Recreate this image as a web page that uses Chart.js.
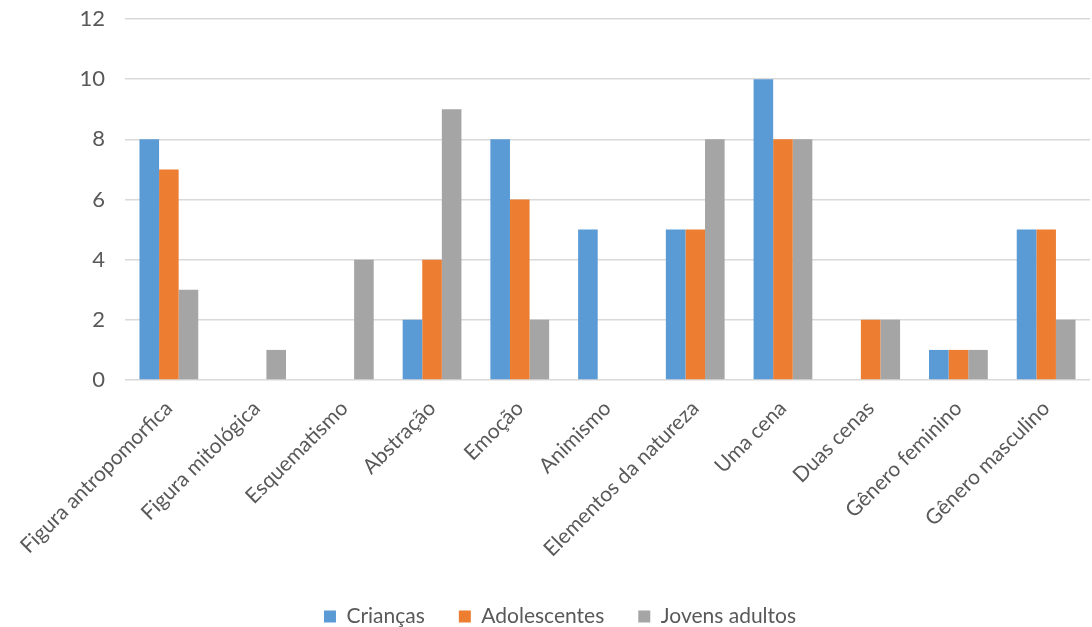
<!DOCTYPE html>
<html>
<head>
<meta charset="utf-8">
<script src="https://cdn.jsdelivr.net/npm/chart.js@4"></script>
<style>
  html, body { margin: 0; padding: 0; background: #fff; }
  #wrap { width: 1092px; height: 627px; }
</style>
</head>
<body>
<div id="wrap"><canvas id="myChart"></canvas></div>
<script>
const categories = ['Figura antropomorfica', 'Figura mitológica', 'Esquematismo', 'Abstração', 'Emoção',
  'Animismo', 'Elementos da natureza', 'Uma cena', 'Duas cenas', 'Gênero feminino', 'Gênero masculino'];
const criancas = [8, 0, 0, 2, 8, 5, 5, 10, 0, 1, 5];
const adolescentes = [7, 0, 0, 4, 6, 0, 5, 8, 2, 1, 5];
const jovensAdultos = [3, 1, 4, 9, 2, 0, 8, 8, 2, 1, 2];
const yTicks = [0, 2, 4, 6, 8, 10, 12];

const ctx = document.getElementById('myChart');
const fontFamily = 'Lato, "Open Sans", sans-serif';
const textColor = '#595959';

new Chart(ctx, {
  type: 'bar',
  data: {
    labels: categories,
    datasets: [
      { label: 'Crianças', data: criancas, backgroundColor: '#5B9BD5' },
      { label: 'Adolescentes', data: adolescentes, backgroundColor: '#ED7D31' },
      { label: 'Jovens adultos', data: jovensAdultos, backgroundColor: '#A5A5A5' }
    ]
  },
  options: {
    responsive: true,
    maintainAspectRatio: false,
    animation: false,
    datasets: { bar: { categoryPercentage: 0.67, barPercentage: 1.0 } },
    layout: { padding: { top: 19, right: 2, left: 30, bottom: -10 } },
    plugins: {
      tooltip: { enabled: false },
      legend: {
        position: 'bottom',
        labels: {
          boxWidth: 12, boxHeight: 12, padding: 34,
          color: textColor,
          font: { family: fontFamily, size: 21 }
        }
      }
    },
    scales: {
      x: {
        grid: { display: false },
        border: { display: false },
        ticks: {
          color: textColor, minRotation: 45, maxRotation: 45, padding: 8,
          font: { family: fontFamily, size: 21 }
        },
        afterFit: (scale) => {
          scale.height = 192;
          scale.paddingLeft = 0;
        }
      },
      y: {
        min: 0, max: 12,
        afterBuildTicks: (scale) => { scale.ticks = yTicks.map(v => ({ value: v })); },
        grid: { color: '#D9D9D9', lineWidth: 1.5, drawTicks: false },
        border: { display: false },
        ticks: {
          color: textColor, padding: 20,
          font: { family: fontFamily, size: 22 }
        },
        afterFit: (scale) => {
          scale.width = 95;
          scale.paddingTop = 0;
          scale.paddingBottom = 0;
        }
      }
    }
  }
});
</script>
</body>
</html>
